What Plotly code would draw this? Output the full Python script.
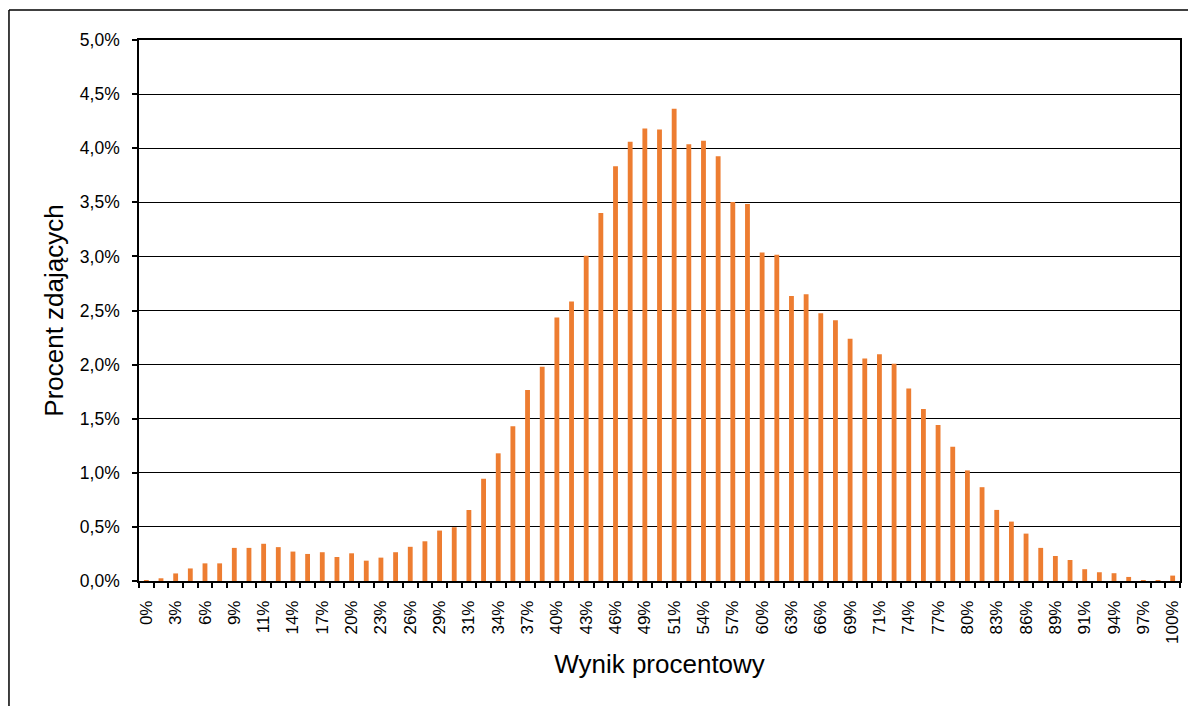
import plotly.graph_objects as go

# score points (0..70 half-points => 0%..100%)
points = list(range(71))

# percent of test takers for each score point
shares = [
    0.005, 0.025, 0.07, 0.116, 0.163, 0.163, 0.306, 0.306, 0.344, 0.313,
    0.272, 0.25, 0.266, 0.222, 0.256, 0.188, 0.216, 0.266, 0.316, 0.367,
    0.466, 0.497, 0.656, 0.945, 1.18, 1.43, 1.765, 1.98, 2.435, 2.583,
    3.006, 3.40, 3.833, 4.059, 4.182, 4.173, 4.364, 4.037, 4.068, 3.926,
    3.503, 3.485, 3.037, 3.015, 2.633, 2.651, 2.475, 2.41, 2.238, 2.056,
    2.096, 2.009, 1.778, 1.59, 1.441, 1.241, 1.022, 0.867, 0.657, 0.549,
    0.438, 0.306, 0.231, 0.194, 0.109, 0.081, 0.072, 0.0375, 0.005, 0.005,
    0.05,
]

tick_labels = [
    "0%", "3%", "6%", "9%", "11%", "14%", "17%", "20%", "23%", "26%",
    "29%", "31%", "34%", "37%", "40%", "43%", "46%", "49%", "51%", "54%",
    "57%", "60%", "63%", "66%", "69%", "71%", "74%", "77%", "80%", "83%",
    "86%", "89%", "91%", "94%", "97%", "100%",
]

y_ticks = [0, 0.5, 1.0, 1.5, 2.0, 2.5, 3.0, 3.5, 4.0, 4.5, 5.0]

FONT = "Liberation Sans, Arial, sans-serif"

fig = go.Figure()
fig.add_trace(go.Bar(
    x=points,
    y=shares,
    width=0.33,
    marker=dict(color="#ED7D31", line=dict(width=0)),
    hovertemplate="%{y:.2f}%<extra></extra>",
))

fig.update_layout(
    width=1188,
    height=698,
    separators=", ",
    paper_bgcolor="white",
    plot_bgcolor="white",
    showlegend=False,
    margin=dict(l=131, r=16, t=32, b=125),
    font=dict(family=FONT, color="black"),
    xaxis=dict(
        range=[-0.5, 70.5],
        tickmode="array",
        tickvals=points[::2],
        ticktext=tick_labels,
        tickangle=-90,
        ticks="",
        ticklabelstandoff=11,
        tickfont=dict(size=17, family=FONT, color="black"),
        showgrid=False,
        zeroline=False,
        showline=True,
        linecolor="black",
        linewidth=1.5,
        mirror=True,
        minor=dict(ticks="outside", tick0=-0.5, dtick=1, ticklen=5,
                   tickwidth=1.5, tickcolor="black", showgrid=False),
        title=dict(text="Wynik procentowy", font=dict(size=26, family=FONT, color="black"), standoff=12),
    ),
    yaxis=dict(
        range=[0, 5.0],
        tickmode="array",
        tickvals=y_ticks,
        ticktext=[f"{v:.1f}%".replace(".", ",") for v in y_ticks],
        ticks="outside",
        ticklen=5,
        tickwidth=1.5,
        tickcolor="black",
        ticklabelstandoff=9,
        tickfont=dict(size=17.5, family=FONT, color="black"),
        showgrid=True,
        gridcolor="black",
        gridwidth=1.3,
        zeroline=False,
        showline=True,
        linecolor="black",
        linewidth=1.5,
        mirror=True,
        title=dict(text="Procent zdających", font=dict(size=26, family=FONT, color="black"), standoff=9),
    ),
)

# outer chart frame (left and top edges visible in the reference)
fig.add_shape(type="line", xref="paper", yref="paper",
              x0=-0.1249, x1=-0.1249, y0=1.0555, y1=-0.35,
              line=dict(color="black", width=1.5))
fig.add_shape(type="line", xref="paper", yref="paper",
              x0=-0.1249, x1=1.03, y0=1.0555, y1=1.0555,
              line=dict(color="black", width=1.5))

fig.write_html("out.html")
